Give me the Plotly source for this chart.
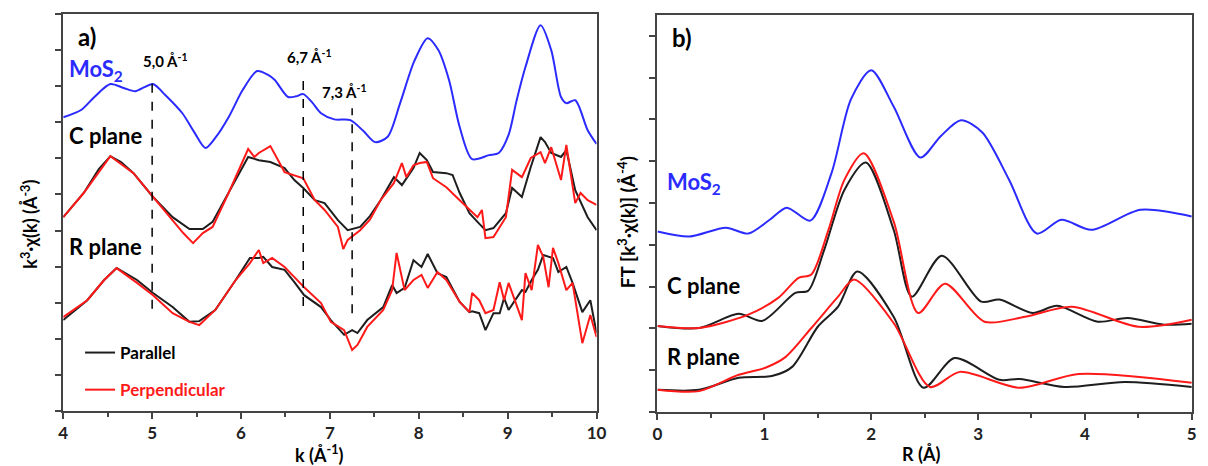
import plotly.graph_objects as go

W, H = 1208, 466

# ---------------- panel a) k-space data ----------------
k_mos = [4.0, 4.2, 4.35, 4.53, 4.68, 4.81, 4.92, 5.01, 5.15, 5.34, 5.48, 5.6, 5.72, 5.86, 6.02, 6.18, 6.3, 6.38,
         6.53, 6.62, 6.7, 6.8, 6.9, 7.05, 7.23, 7.38, 7.51, 7.65, 7.79, 7.95, 8.1, 8.22, 8.34, 8.46, 8.6, 8.79,
         8.9, 9.01, 9.1, 9.2, 9.37, 9.49, 9.6, 9.66, 9.76, 9.9, 10.0]
mos_k = [8.14, 8.34, 8.70, 9.06, 8.95, 8.86, 8.98, 9.06, 8.75, 8.25, 7.70, 7.29, 7.60, 8.14, 8.90, 9.42, 9.32, 9.17,
         8.70, 8.72, 8.78, 8.55, 8.25, 8.08, 8.06, 7.75, 7.45, 7.60, 8.53, 9.70, 10.33, 10.00, 9.17, 7.87, 6.98, 7.09,
         7.15, 7.65, 8.60, 9.53, 10.69, 10.00, 8.70, 8.53, 8.61, 7.78, 7.40]

k_c_par = [4.0, 4.23, 4.4, 4.53, 4.65, 4.79, 5.01, 5.23, 5.42, 5.57, 5.68, 5.86, 6.08, 6.2, 6.33, 6.49, 6.6, 6.7,
           6.83, 6.94, 7.09, 7.2, 7.34, 7.45, 7.57, 7.72, 7.81, 7.94, 8.01, 8.09, 8.16, 8.31, 8.38, 8.46, 8.57,
           8.66, 8.75, 8.84, 8.98, 9.05, 9.16, 9.26, 9.37, 9.42, 9.49, 9.6, 9.66, 9.76, 9.9, 10.0]
c_par = [5.37, 6.04, 6.70, 7.06, 6.90, 6.59, 5.93, 5.37, 5.04, 5.04, 5.24, 6.04, 7.04, 6.95, 6.90, 6.73, 6.40, 6.18,
         5.84, 5.76, 5.29, 5.01, 5.10, 5.40, 5.84, 6.48, 6.26, 6.73, 7.15, 6.95, 6.62, 6.59, 6.54, 6.04, 5.48,
         5.24, 5.01, 5.07, 5.48, 6.18, 5.93, 6.76, 7.59, 7.45, 7.15, 7.04, 7.23, 6.12, 5.37, 5.01]

k_c_perp = [4.0, 4.23, 4.53, 4.79, 5.01, 5.23, 5.35, 5.46, 5.57, 5.68, 5.86, 6.08, 6.15, 6.2, 6.33, 6.49, 6.6, 6.7,
            6.83, 6.94, 7.09, 7.15, 7.2, 7.34, 7.45, 7.57, 7.72, 7.81, 7.86, 7.94, 8.01, 8.09, 8.16, 8.31, 8.46,
            8.57, 8.66, 8.71, 8.75, 8.84, 8.98, 9.05, 9.16, 9.26, 9.37, 9.42, 9.49, 9.6, 9.66, 9.76, 9.82, 9.9, 10.0]
c_perp = [5.37, 6.04, 7.06, 6.59, 5.93, 5.29, 4.93, 4.65, 4.93, 5.10, 6.04, 7.26, 7.04, 7.15, 7.34, 6.62, 6.54, 6.45,
          5.84, 5.57, 5.10, 4.49, 4.74, 5.01, 5.30, 5.84, 6.32, 6.87, 6.48, 6.81, 6.87, 6.90, 6.45, 6.20, 5.84,
          5.57, 5.37, 5.57, 4.79, 4.82, 5.37, 6.68, 6.48, 7.01, 7.17, 6.87, 7.31, 6.40, 7.37, 5.76, 6.04, 5.84, 5.71]

k_r = [4.0, 4.27, 4.46, 4.6, 4.83, 5.01, 5.23, 5.42, 5.53, 5.71, 5.94, 6.1, 6.2, 6.25, 6.35, 6.49, 6.6, 6.71, 6.9,
       7.01, 7.16, 7.25, 7.31, 7.42, 7.6, 7.7, 7.75, 7.84, 7.94, 8.03, 8.1, 8.21, 8.31, 8.46, 8.57, 8.6, 8.68,
       8.75, 8.84, 8.91, 8.96, 9.01, 9.16, 9.2, 9.27, 9.34, 9.4, 9.46, 9.51, 9.57, 9.66, 9.73, 9.84, 9.93, 10.0]
r_par = [2.52, 3.07, 3.63, 3.96, 3.63, 3.27, 2.88, 2.47, 2.49, 2.80, 3.63, 4.24, 4.24, 4.27, 3.99, 3.91, 3.57, 3.21,
         2.88, 2.52, 2.11, 2.24, 2.16, 2.52, 2.88, 3.49, 3.27, 3.41, 4.18, 3.99, 4.35, 3.82, 3.71, 3.02, 2.74, 2.76,
         2.71, 2.24, 2.71, 2.71, 3.13, 2.80, 3.35, 3.30, 3.63, 3.91, 4.32, 4.27, 4.24, 3.85, 3.99, 3.55, 2.74, 3.07, 2.16]
r_perp = [2.60, 3.07, 3.63, 3.96, 3.55, 3.21, 2.71, 2.47, 2.38, 2.80, 3.63, 4.10, 4.46, 4.10, 4.24, 3.99, 3.71, 3.43,
          2.99, 2.47, 2.24, 1.69, 1.83, 2.33, 2.80, 3.35, 4.38, 3.35, 3.63, 3.77, 3.41, 3.85, 3.63, 3.02, 2.74, 3.27,
          3.07, 2.71, 2.80, 3.57, 3.07, 3.55, 2.52, 3.82, 3.35, 4.60, 4.27, 3.43, 4.52, 4.10, 3.35, 3.55, 1.88, 2.66, 2.05]

# dashed markers (k position, y bottom, y top) and their labels
mark_k = [5.0, 6.7, 7.25]
mark_lo = [2.83, 2.91, 2.71]
mark_hi = [9.25, 9.36, 8.39]
mark_txt = ["5,0 Å<sup>-1</sup>", "6,7 Å<sup>-1</sup>", "7,3 Å<sup>-1</sup>"]
mark_lab_k = [4.88, 6.49, 6.89]
mark_lab_y = [9.70, 9.81, 8.86]

k_ticks = [4, 5, 6, 7, 8, 9, 10]
R_ticks = [0, 1, 2, 3, 4, 5]

# ---------------- panel b) R-space data ----------------
R_mos = [0.0, 0.3, 0.64, 0.85, 1.05, 1.21, 1.43, 1.63, 1.81, 2.0, 2.21, 2.46, 2.65, 2.84, 3.04, 3.29, 3.55, 3.78,
         4.06, 4.52, 5.0]
ft_mos = [4.32, 4.20, 4.41, 4.27, 4.60, 4.89, 4.58, 5.73, 7.48, 8.18, 7.31, 6.09, 6.60, 6.98, 6.69, 5.56, 4.27, 4.60,
          4.36, 4.84, 4.68]

R_c_par = [0.0, 0.39, 0.76, 0.98, 1.29, 1.41, 1.56, 1.75, 1.95, 2.21, 2.38, 2.66, 3.03, 3.2, 3.51, 3.74, 4.12, 4.4,
           4.74, 5.0]
ft_c_par = [2.06, 2.01, 2.35, 2.18, 2.85, 2.90, 3.88, 5.32, 5.97, 4.36, 2.76, 3.74, 2.64, 2.69, 2.37, 2.54, 2.16,
            2.25, 2.09, 2.11]
R_c_perp = [0.0, 0.39, 0.85, 1.13, 1.32, 1.44, 1.6, 1.75, 1.93, 2.21, 2.44, 2.69, 3.06, 3.44, 3.88, 4.5, 5.0]
ft_c_perp = [2.06, 2.01, 2.33, 2.73, 3.21, 3.29, 4.36, 5.56, 6.19, 4.56, 2.37, 3.07, 2.16, 2.28, 2.52, 2.04, 2.21]

R_r_par = [0.0, 0.39, 0.76, 1.07, 1.26, 1.5, 1.69, 1.87, 2.21, 2.49, 2.78, 3.2, 3.39, 3.81, 4.37, 5.0]
ft_r_par = [0.53, 0.53, 0.82, 0.86, 1.08, 2.04, 2.52, 3.36, 2.28, 0.58, 1.29, 0.77, 0.79, 0.60, 0.72, 0.60]
R_r_perp = [0.0, 0.39, 0.76, 1.01, 1.2, 1.44, 1.69, 1.84, 2.21, 2.55, 2.83, 3.39, 3.94, 5.0]
ft_r_perp = [0.53, 0.50, 0.89, 1.06, 1.32, 2.01, 2.76, 3.17, 2.13, 0.60, 0.96, 0.58, 0.91, 0.70]

BLUE = "#2b2bff"
RED = "#ff1a1a"
BLACK = "#1e1e1e"
AXC = "#444444"
TXT = "Lato"

fig = go.Figure()


def line(x, y, color, xa, ya, shape="linear", name=None, legend=False, group=None):
    fig.add_trace(go.Scatter(x=x, y=y, mode="lines", xaxis=xa, yaxis=ya, name=name,
                             showlegend=legend, legendgroup=group,
                             line=dict(color=color, width=2, shape=shape, smoothing=0.8),
                             hoverinfo="skip"))


line(k_mos, mos_k, BLUE, "x", "y", shape="spline")
line(k_c_par, c_par, BLACK, "x", "y", name="<b>Parallel</b>", legend=True, group="a")
line(k_c_perp, c_perp, RED, "x", "y", name="<b><span style='color:#ff1a1a'>Perpendicular</span></b>",
     legend=True, group="b")
line(k_r, r_par, BLACK, "x", "y")
line(k_r, r_perp, RED, "x", "y")

line(R_mos, ft_mos, BLUE, "x2", "y2", shape="spline")
line(R_c_par, ft_c_par, BLACK, "x2", "y2", shape="spline")
line(R_c_perp, ft_c_perp, RED, "x2", "y2", shape="spline")
line(R_r_par, ft_r_par, BLACK, "x2", "y2", shape="spline")
line(R_r_perp, ft_r_perp, RED, "x2", "y2", shape="spline")

for kk, lo, hi in zip(mark_k, mark_lo, mark_hi):
    fig.add_shape(type="line", xref="x", yref="y", x0=kk, x1=kk, y0=lo, y1=hi,
                  line=dict(color="black", width=1.5, dash="dash"))

for kx, ky, t in zip(mark_lab_k, mark_lab_y, mark_txt):
    fig.add_annotation(x=kx, y=ky, xref="x", yref="y", text="<b>" + t + "</b>", showarrow=False,
                       xanchor="left", yanchor="middle",
                       font=dict(family=TXT, size=15, color="black"))


def px(xp, yp):
    return xp / W, 1 - yp / H


def note(xp, yp, text, size, color="black", anchor="left", angle=0, family=TXT):
    x, y = px(xp, yp)
    fig.add_annotation(x=x, y=y, xref="paper", yref="paper", text=text, showarrow=False,
                       xanchor=anchor, yanchor="middle", textangle=angle,
                       font=dict(family=family, size=size, color=color))


note(72, 36, "<b>a)</b>", 24)
note(63, 70, "<b>MoS<sub>2</sub></b>", 22, BLUE)
note(63, 135, "<b>C plane</b>", 22)
note(63, 246, "<b>R plane</b>", 22)
note(673, 38, "<b>b)</b>", 24)
note(668, 183, "<b>MoS<sub>2</sub></b>", 22, BLUE)
note(668, 285, "<b>C plane</b>", 22)
note(668, 356, "<b>R plane</b>", 22)

note(318, 454, "<b>k (Å<sup>-1</sup>)</b>", 18, anchor="center")
note(928, 454, "<b>R (Å)</b>", 18, anchor="center")
note(25, 224, "<b>k<sup>3</sup>·χ(k) (Å<sup>-3</sup>)</b>", 18, anchor="center", angle=-90)
note(629, 222, "<b>FT [k<sup>3</sup>·χ(k)] (Å<sup>-4</sup>)</b>", 19, anchor="center", angle=-90)

axis_common = dict(showline=True, linecolor=AXC, linewidth=2, mirror=True, showgrid=False, zeroline=False,
                   ticks="outside", tickcolor=AXC, tickwidth=2, ticklen=6)
tickfont = dict(family=TXT, size=17, color="#222")

fig.update_layout(
    width=W, height=H,
    margin=dict(l=0, r=0, t=0, b=0),
    paper_bgcolor="white", plot_bgcolor="white",
    xaxis=dict(domain=[59 / W, 599 / W], range=[4, 10], tickmode="array", tickvals=k_ticks,
               ticktext=["<b>%d</b>" % v for v in k_ticks], tickfont=tickfont, ticklabelstandoff=0,
               minor=dict(dtick=0.5, tick0=4, ticks="outside", ticklen=4, tickcolor=AXC, tickwidth=2),
               anchor="y", **axis_common),
    yaxis=dict(domain=[1 - 411 / H, 1 - 14 / H], range=[0, 11], dtick=1, tick0=0, showticklabels=False,
               anchor="x", **axis_common),
    xaxis2=dict(domain=[660.7 / W, 1201.7 / W], range=[0, 5], tickmode="array", tickvals=R_ticks,
                ticktext=["<b>%d</b>" % v for v in R_ticks], tickfont=tickfont, ticklabelstandoff=0,
                minor=dict(dtick=0.5, tick0=0, ticks="outside", ticklen=4, tickcolor=AXC, tickwidth=2),
                anchor="y2", **axis_common),
    yaxis2=dict(domain=[1 - 412 / H, 1 - 15 / H], range=[0, 9.5], dtick=1, tick0=0, showticklabels=False,
                anchor="x2", **axis_common),
    showlegend=True,
    legend=dict(x=76 / W, y=1 - 335 / H, xanchor="left", yanchor="top", bgcolor="rgba(0,0,0,0)",
                font=dict(family=TXT, size=17, color="black"), tracegroupgap=12, itemwidth=30,
                traceorder="grouped"),
)

fig.write_html("out.html", config={"displayModeBar": False},
               post_script="document.body.style.margin='0';document.body.style.overflow='hidden';")
